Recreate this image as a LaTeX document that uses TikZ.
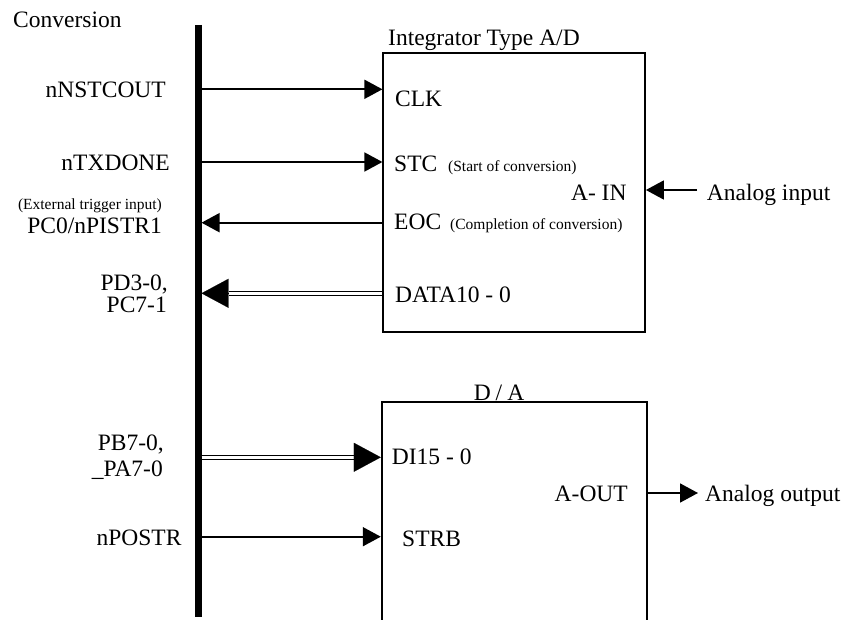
\documentclass[tikz,border=0pt]{standalone}
\usepackage{fontspec}
\setmainfont{Liberation Serif}
\usetikzlibrary{arrows.meta}
\begin{document}
\begin{tikzpicture}[x=1pt,y=-1pt,
  lbl/.style={inner sep=0pt,font=\fontsize{23.5}{26}\selectfont},
  small/.style={inner sep=0pt,font=\fontsize{15.5}{17}\selectfont},
  sig/.style={line width=1.7pt,-{Triangle[length=18pt,width=19pt]}},
  bussig/.style={line width=1.4pt,double,double distance=2.6pt},
  bigtip/.style={line width=0.1pt,-{Triangle[length=27pt,width=29pt]}},
  blk/.style={draw,line width=1.8pt,inner sep=0pt}]
\useasboundingbox (0,0) rectangle (848,620);
\clip (0,0) rectangle (848,620);
% blocks
\node[blk,minimum width=261.7pt,minimum height=278.4pt] (adc) at (514.15,192.5) {};
\node[blk,minimum width=265pt,minimum height=240pt] (dac) at (514.2,521.7) {};
% bus
\coordinate (bt) at (198.3,25);
\coordinate (bb) at (198.3,617);
\draw[line width=6.5pt] (bt) -- (bb);
% connector end points on the bus
\coordinate (clkb) at (201.5,89.3);
\coordinate (stcb) at (201.5,162);
\coordinate (eocb) at (201.5,222.7);
\coordinate (datb) at (201.5,293.3);
\coordinate (datm) at (228.5,293.3);
\coordinate (dib) at (201.5,457.3);
\coordinate (dim) at (354.7,457.3);
\coordinate (strb) at (201.5,536.7);
\coordinate (ain) at (697,190);
\coordinate (aout) at (698,493);
% connectors
\draw[sig] (clkb) -- (clkb -| adc.west);
\draw[sig] (stcb) -- (stcb -| adc.west);
\draw[sig] (eocb -| adc.west) -- (eocb);
\draw[bussig] (datm) -- (datm -| adc.west);
\draw[bigtip] (datm) -- (datb);
\draw[bussig] (dib) -- (dim);
\draw[bigtip] (dim) -- (dim -| dac.west);
\draw[sig] (strb) -- (strb -| dac.west);
\draw[sig] (ain) -- (ain -| adc.east);
\draw[sig] (aout -| dac.east) -- (aout);
% labels
\node[lbl,anchor=base west] (conv) at (13,27.3) {Conversion};
\node[lbl,anchor=base east] (l1) at (166,97.3) {nNSTCOUT};
\node[lbl,anchor=base east] (l2) at (170,170.7) {nTXDONE};
\node[small,anchor=base east] (l3a) at (162,210) {(External trigger input)};
\node[lbl,anchor=base east] (l3) at (162,233.3) {PC0/nPISTR1};
\node[lbl,anchor=base east] (l4a) at (168,290.7) {PD3-0,};
\node[lbl,anchor=base east] (l4b) at (167,312.7) {PC7-1};
\node[lbl,anchor=base east] (l5a) at (164,450) {PB7-0,};
\node[lbl,anchor=base east] (l5b) at (163,476) {\_PA7-0};
\node[lbl,anchor=base east] (l6) at (181.7,545.6) {nPOSTR};
\node[lbl,anchor=base west] (adct) at (388,45.6) {Integrator Type A/D};
\node[lbl,anchor=base west] (clk) at (395,107) {CLK};
\node[lbl,anchor=base west] (stc) at (394,171.7) {STC};
\node[small,anchor=base west] (stcs) at (448,171.7) {(Start of conversion)};
\node[lbl,anchor=base east] (ainl) at (626.7,200.7) {A- IN};
\node[lbl,anchor=base west] (eoc) at (394,229.3) {EOC};
\node[small,anchor=base west] (eocs) at (450,229.3) {(Completion of conversion)};
\node[lbl,anchor=base west] (data) at (395,302.3) {DATA10 - 0};
\node[lbl,anchor=base] (dact) at (499,400) {D\kern5pt/\kern5pt A};
\node[lbl,anchor=base west] (di) at (391.7,464) {DI15 - 0};
\node[lbl,anchor=base west] (strbl) at (402,546) {STRB};
\node[lbl,anchor=base east] (aoutl) at (628,501.7) {A-OUT};
\node[lbl,anchor=base west] (aint) at (706.7,200.7) {Analog input};
\node[lbl,anchor=base west] (aoutt) at (705,501.7) {Analog output};
\end{tikzpicture}
\end{document}
